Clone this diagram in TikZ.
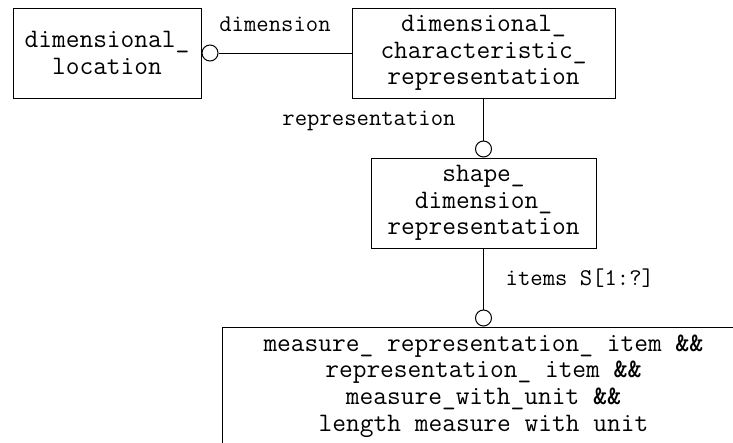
\documentclass[tikz,border=0pt]{standalone}
\usepackage{fontspec}
\usepackage{tikz}
\usetikzlibrary{positioning}

\begin{document}
\begin{tikzpicture}[x=0.75pt, y=-0.75pt,
		entity/.style={draw, line width=0.75pt, align=center, inner sep=0pt,
			font=\ttfamily\fontsize{20}{20}\selectfont},
		ring/.style={draw, circle, line width=0.75pt, minimum size=12pt, inner sep=0pt, fill=white},
		role/.style={font=\ttfamily\fontsize{18}{18}\selectfont}]
			\useasboundingbox (0,0) rectangle (733,443);
			\clip (0,0) rectangle (733,443);
			
			% Entities
			\node[entity, minimum width=141pt, minimum height=67.5pt] (loc) at (107,53) {dimensional\_\\location};
			\node[entity, minimum width=197.25pt, minimum height=67.5pt] (dcr) at (483.5,53) {dimensional\_\\characteristic\_\\representation};
			\node[entity, minimum width=168.75pt, minimum height=67.5pt] (sdr) at (483.5,203) {shape\_\\dimension\_\\representation};
			\node[entity, minimum width=392.25pt, minimum height=88.5pt] (mri) at (483.5,386) {measure\_ representation\_ item \textbf{\&\&}\\representation\_ item \textbf{\&\&}\\measure\_with\_unit \textbf{\&\&}\\length measure with unit};
			
			% Relations
			\node[ring, right=0pt of loc] (r1) {};
			\node[ring, above=0pt of sdr] (r2) {};
			\node[ring, above=0pt of mri] (r3) {};
			\draw[line width=0.75pt] (r1) -- (dcr);
			\draw[line width=0.75pt] (dcr) -- (r2);
			\draw[line width=0.75pt] (sdr) -- (r3);
			
			% Role names
			\node[role] (l1) at (275,24) {dimension};
			\node[role] (l2) at (369,121) {representation};
			\node[role, anchor=west] (l3) at (501,278) {items S[1:?]};
		\end{tikzpicture}
\end{document}
